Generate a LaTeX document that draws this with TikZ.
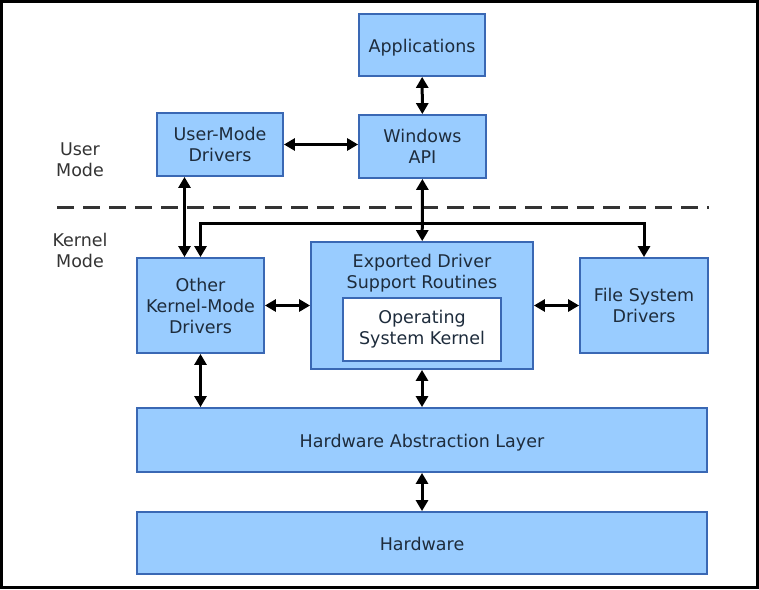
\documentclass[tikz,border=0pt]{standalone}
\usepackage{fontspec}
\setmainfont{DejaVu Sans}
\usetikzlibrary{arrows.meta,calc}
\definecolor{boxfill}{HTML}{99CCFF}
\definecolor{boxline}{HTML}{3A68B4}
\definecolor{boxtext}{HTML}{1E2C3C}
\definecolor{modetext}{HTML}{333333}
\begin{document}
\begin{tikzpicture}[x=1pt,y=-1pt,
    box/.style={draw=boxline,fill=boxfill,line width=1.8pt,inner sep=0pt,align=center,
      text=boxtext,font=\fontsize{17.5}{21}\selectfont},
    oneline/.style={text height=15pt,text depth=0pt},
    conn/.style={line width=3pt,{Triangle[length=11pt,width=12pt]}-{Triangle[length=11pt,width=12pt]}},
    down/.style={line width=3pt,-{Triangle[length=11pt,width=12pt]}},
    modelabel/.style={align=center,text=modetext,font=\fontsize{17.5}{21}\selectfont}]
  \useasboundingbox (0,0) rectangle (759,589);
  \draw[line width=3pt] (1.5,1.5) rectangle (757.5,587.5); %Frame
  % user mode
  \node[box,oneline,minimum width=126pt,minimum height=62pt] (apps) at (422,45) {Applications};
  \node[box,minimum width=127pt,minimum height=63pt] (winapi) at (422.5,146.5) {Windows\\API};
  \node[box,minimum width=126pt,minimum height=63pt] (umd) at (220,144.5) {User-Mode\\Drivers};
  \node[modelabel] (user) at (80,160) {User\\Mode};
  \node[modelabel] (kernel) at (80,250) {Kernel\\Mode};
  \draw[modetext,line width=3pt,dash pattern=on 17pt off 9pt] (57,207) -- (709,207);
  % kernel mode
  \node[box,minimum width=127pt,minimum height=95pt] (okmd) at (200.5,305.5) {Other\\Kernel-Mode\\Drivers};
  \node[box,minimum width=222pt,minimum height=127pt] (edsr) at (422,305.5) {};
  \node[align=center,text=boxtext,font=\fontsize{17.5}{21}\selectfont] (edsrtext) at (422,273) {Exported Driver\\Support Routines};
  \node[box,fill=white,minimum width=158pt,minimum height=63pt] (osk) at (422,329.5) {Operating\\System Kernel};
  \node[box,minimum width=128pt,minimum height=95pt] (fsd) at (644,305.5) {File System\\Drivers};
  \node[box,oneline,minimum width=570pt,minimum height=64pt] (hal) at (422,440) {Hardware Abstraction Layer};
  \node[box,oneline,minimum width=570pt,minimum height=62pt] (hw) at (422,543) {Hardware};
  % connectors
  \coordinate (bus) at (422,223);
  \draw[conn] (apps) -- (winapi);
  \draw[conn] (umd.east) -- (umd.east -| winapi.west);
  \draw[conn] ($(umd.south -| okmd.north)+(-16,0)$) -- ($(okmd.north)+(-16,0)$);
  \draw[conn] (winapi) -- (edsr);
  \draw[down] (bus) -| (okmd.north);
  \draw[down] (bus) -| (fsd.north);
  \draw[conn] (okmd.east) -- (edsr.west);
  \draw[conn] (edsr.east) -- (fsd.west);
  \draw[conn] (okmd.south) -- (okmd.south |- hal.north);
  \draw[conn] (edsr) -- (hal);
  \draw[conn] (hal) -- (hw);
\end{tikzpicture}
\end{document}
